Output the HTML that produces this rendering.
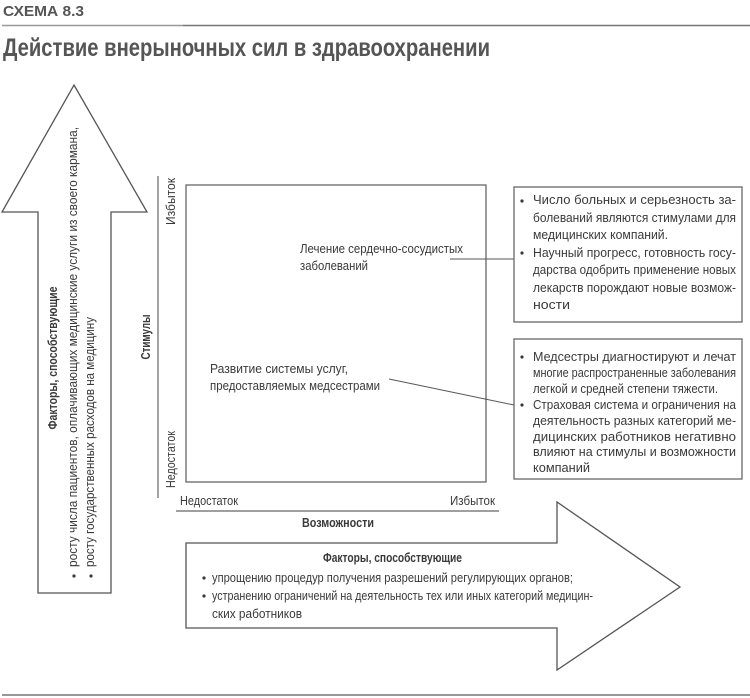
<!DOCTYPE html>
<html><head><meta charset="utf-8"><style>
html,body{margin:0;padding:0;background:#fff;}
body{width:750px;height:698px;position:relative;overflow:hidden;}
</style></head><body>
<svg width="750" height="698" style="position:absolute;left:0;top:0" xmlns="http://www.w3.org/2000/svg">
<g font-family="Liberation Sans, sans-serif" lengthAdjust="spacingAndGlyphs">
<text x="3" y="16" font-size="15" font-weight="bold" fill="#555" textLength="81" lengthAdjust="spacingAndGlyphs">СХЕМА 8.3</text>
<line x1="2" y1="25.5" x2="183" y2="25.5" stroke="#999" stroke-width="1.5"/>
<line x1="183" y1="25.5" x2="750" y2="25.5" stroke="#777" stroke-width="1.5"/>
<text x="3" y="56" font-size="25" font-weight="bold" fill="#555" textLength="487" lengthAdjust="spacingAndGlyphs">Действие внерыночных сил в здравоохранении</text>
<line x1="2" y1="695" x2="750" y2="695" stroke="#777" stroke-width="1.5"/>
<!-- up arrow -->
<polygon points="74,85 147,212 111,212 111,593 38,593 38,212 2,212" fill="#fff" stroke="#555" stroke-width="1.3"/>
<g fill="#3a3a3a" font-size="12.5">
<text transform="translate(57,358) rotate(-90)" text-anchor="middle" font-weight="bold" textLength="143" lengthAdjust="spacingAndGlyphs">Факторы, способствующие</text>
<text transform="translate(77,567) rotate(-90)" textLength="440" lengthAdjust="spacingAndGlyphs">росту числа пациентов, оплачивающих медицинские услуги из своего кармана,</text>
<text transform="translate(94,567) rotate(-90)" textLength="250" lengthAdjust="spacingAndGlyphs">росту государственных расходов на медицину</text>
<circle cx="74" cy="576" r="1.6"/><circle cx="91" cy="576" r="1.6"/>
</g>
<!-- right arrow -->
<polygon points="186,543 557,543 557,502 680,587 557,670 557,628 186,628" fill="#fff" stroke="#555" stroke-width="1.3"/>
<g fill="#3a3a3a" font-size="12.5">
<text x="323" y="562" font-weight="bold" textLength="139" lengthAdjust="spacingAndGlyphs">Факторы, способствующие</text>
<circle cx="204" cy="578" r="1.6"/><circle cx="204" cy="596" r="1.6"/>
<text x="212" y="582" textLength="361" lengthAdjust="spacingAndGlyphs">упрощению процедур получения разрешений регулирующих органов;</text>
<text x="212" y="600" textLength="381" lengthAdjust="spacingAndGlyphs">устранению ограничений на деятельность тех или иных категорий медицин-</text>
<text x="212" y="618" textLength="90" lengthAdjust="spacingAndGlyphs">ских работников</text>
</g>
<!-- matrix -->
<rect x="186" y="185" width="300" height="297" fill="none" stroke="#666" stroke-width="1.3"/>
<line x1="158" y1="176" x2="158" y2="498" stroke="#666" stroke-width="1.2"/>
<line x1="176" y1="511" x2="499" y2="511" stroke="#666" stroke-width="1.2"/>
<g fill="#3a3a3a" font-size="12.5">
<text transform="translate(175,225) rotate(-90)" textLength="47" lengthAdjust="spacingAndGlyphs">Избыток</text>
<text transform="translate(175,488) rotate(-90)" textLength="57" lengthAdjust="spacingAndGlyphs">Недостаток</text>
<text transform="translate(150,337) rotate(-90)" text-anchor="middle" font-weight="bold" textLength="45" lengthAdjust="spacingAndGlyphs">Стимулы</text>
<text x="180" y="505" textLength="58" lengthAdjust="spacingAndGlyphs">Недостаток</text>
<text x="450" y="505" textLength="45" lengthAdjust="spacingAndGlyphs">Избыток</text>
<text x="302" y="527" font-weight="bold" textLength="72" lengthAdjust="spacingAndGlyphs">Возможности</text>
<text x="300" y="253" textLength="163" lengthAdjust="spacingAndGlyphs">Лечение сердечно-сосудистых</text>
<text x="300" y="270" textLength="68" lengthAdjust="spacingAndGlyphs">заболеваний</text>
<text x="210" y="373" textLength="138" lengthAdjust="spacingAndGlyphs">Развитие системы услуг,</text>
<text x="210" y="390" textLength="170" lengthAdjust="spacingAndGlyphs">предоставляемых медсестрами</text>
</g>
<line x1="450" y1="259" x2="514" y2="259" stroke="#555" stroke-width="1"/>
<line x1="389" y1="379" x2="514" y2="405" stroke="#555" stroke-width="1"/>
<rect x="514" y="187" width="228" height="135" fill="none" stroke="#666" stroke-width="1.3"/>
<rect x="514" y="339" width="228" height="140" fill="none" stroke="#666" stroke-width="1.3"/>
<g fill="#3a3a3a" font-size="12.5">
<circle cx="522" cy="201" r="1.6"/><circle cx="522" cy="253" r="1.6"/>
<text x="533" y="204" textLength="203" lengthAdjust="spacingAndGlyphs">Число больных и серьезность за-</text>
<text x="533" y="222" textLength="203" lengthAdjust="spacingAndGlyphs">болеваний являются стимулами для</text>
<text x="533" y="239" textLength="135" lengthAdjust="spacingAndGlyphs">медицинских компаний.</text>
<text x="533" y="257" textLength="203" lengthAdjust="spacingAndGlyphs">Научный прогресс, готовность госу-</text>
<text x="533" y="274" textLength="203" lengthAdjust="spacingAndGlyphs">дарства одобрить применение новых</text>
<text x="533" y="292" textLength="203" lengthAdjust="spacingAndGlyphs">лекарств порождают новые возмож-</text>
<text x="533" y="309" textLength="37" lengthAdjust="spacingAndGlyphs">ности</text>
<circle cx="522" cy="357" r="1.6"/><circle cx="522" cy="405" r="1.6"/>
<text x="533" y="361" textLength="203" lengthAdjust="spacingAndGlyphs">Медсестры диагностируют и лечат</text>
<text x="533" y="377" textLength="203" lengthAdjust="spacingAndGlyphs">многие распространенные заболевания</text>
<text x="533" y="393" textLength="185" lengthAdjust="spacingAndGlyphs">легкой и средней степени тяжести.</text>
<text x="533" y="409" textLength="203" lengthAdjust="spacingAndGlyphs">Страховая система и ограничения на</text>
<text x="533" y="425" textLength="203" lengthAdjust="spacingAndGlyphs">деятельность разных категорий ме-</text>
<text x="533" y="441" textLength="203" lengthAdjust="spacingAndGlyphs">дицинских работников негативно</text>
<text x="533" y="456" textLength="203" lengthAdjust="spacingAndGlyphs">влияют на стимулы и возможности</text>
<text x="533" y="472" textLength="57" lengthAdjust="spacingAndGlyphs">компаний</text>
</g>
</g>
</svg>
</body></html>
